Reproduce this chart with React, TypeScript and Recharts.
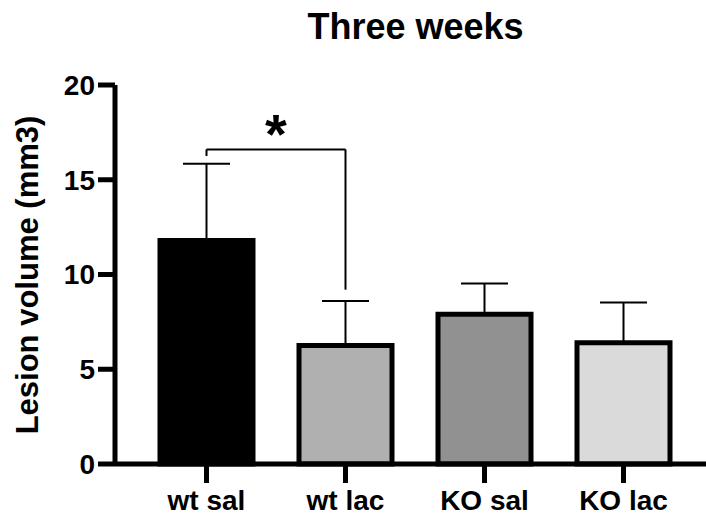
import React from "react";
import {
  Bar,
  BarChart,
  Cell,
  ErrorBar,
  ReferenceLine,
  XAxis,
  YAxis,
} from "recharts";

const groups = ["wt sal", "wt lac", "KO sal", "KO lac"];
const means = [11.8, 6.25, 7.9, 6.4];
const sems = [4.05, 2.35, 1.62, 2.12];
const fills = ["#000000", "#b0b0b0", "#919191", "#dadada"];
const yTicks = [0, 5, 10, 15, 20];

// significance bracket between wt sal and wt lac
const bracketY = 16.6;
const leftLegEnd = 16.25;
const rightLegEnd = 9.2;

const FONT = "'Liberation Sans', Arial, sans-serif";

const data = groups.map((g, i) => ({
  group: g,
  mean: means[i],
  err: [0, sems[i]],
}));

function YLabel() {
  return (
    <text
      x={38}
      y={275}
      transform="rotate(-90, 38, 275)"
      textAnchor="middle"
      fontFamily={FONT}
      fontWeight="bold"
      fontSize={31}
      fill="#000"
    >
      Lesion volume (mm3)
    </text>
  );
}

export default function App() {
  return (
    <div style={{ position: "absolute", left: 0, top: 0, width: 706, height: 516, background: "#fff" }}>
      <div
        style={{
          position: "absolute",
          left: 115,
          width: 601,
          top: 7,
          textAlign: "center",
          fontFamily: FONT,
          fontWeight: "bold",
          fontSize: 36,
          lineHeight: "40px",
        }}
      >
        Three weeks
      </div>
      <BarChart
        width={706}
        height={516}
        data={data}
        margin={{ top: 85, right: 0, left: 0, bottom: 0 }}
        barCategoryGap={0}
      >
        <XAxis
          dataKey="group"
          height={52}
          padding={{ left: 22, right: 13 }}
          axisLine={{ stroke: "#000", strokeWidth: 5 }}
          tickLine={{ stroke: "#000", strokeWidth: 5 }}
          tickSize={19}
          tickMargin={7}
          tick={{ fill: "#000", fontSize: 28, fontWeight: "bold", fontFamily: FONT }}
        />
        <YAxis
          width={115}
          domain={[0, 20]}
          ticks={yTicks}
          axisLine={{ stroke: "#000", strokeWidth: 5 }}
          tickLine={{ stroke: "#000", strokeWidth: 5 }}
          tickSize={17}
          tickMargin={3}
          tick={{ fill: "#000", fontSize: 28, fontWeight: "bold", fontFamily: FONT }}
          label={() => <YLabel />}
        />
        <Bar
          dataKey="mean"
          barSize={93}
          stroke="#000"
          strokeWidth={5}
          isAnimationActive={false}
        >
          {data.map((d, i) => (
            <Cell key={d.group} fill={fills[i]} />
          ))}
          <ErrorBar
            dataKey="err"
            direction="y"
            width={23.5}
            stroke="#000"
            strokeWidth={2}
            isAnimationActive={false}
          />
        </Bar>
        <ReferenceLine
          segment={[
            { x: groups[0], y: bracketY },
            { x: groups[1], y: bracketY },
          ]}
          stroke="#000"
          strokeWidth={2}
          label={{
            value: "*",
            position: "top",
            offset: -4,
            fill: "#000",
            fontSize: 56,
            fontWeight: "bold",
            fontFamily: FONT,
          }}
        />
        <ReferenceLine
          segment={[
            { x: groups[0], y: bracketY },
            { x: groups[0], y: leftLegEnd },
          ]}
          stroke="#000"
          strokeWidth={2}
        />
        <ReferenceLine
          segment={[
            { x: groups[1], y: bracketY },
            { x: groups[1], y: rightLegEnd },
          ]}
          stroke="#000"
          strokeWidth={2}
        />
      </BarChart>
    </div>
  );
}
